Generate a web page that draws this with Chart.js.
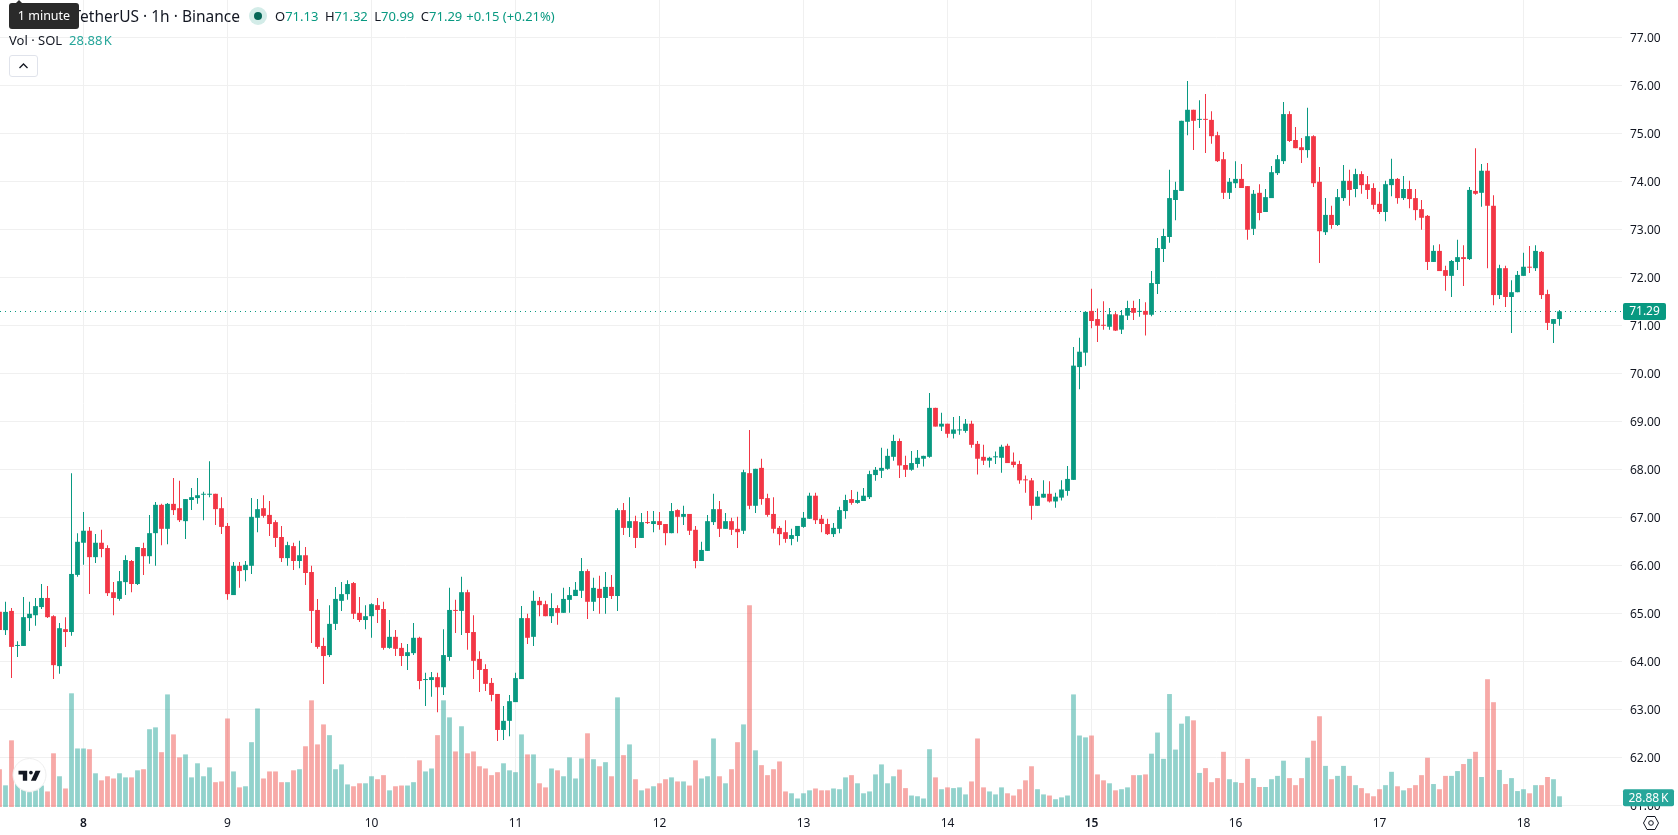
<!DOCTYPE html>
<html>
<head>
<meta charset="utf-8">
<title>SOL/USDT 1h</title>
<script src="https://cdn.jsdelivr.net/npm/chart.js@4"></script>
<style>
  html, body { margin: 0; padding: 0; background: #fff; overflow: hidden; }
  body { width: 1678px; height: 835px; position: relative; font-family: "Noto Sans", sans-serif; color: #131722; }
  canvas { position: absolute; left: 0; top: 0; }
  .abs { position: absolute; white-space: nowrap; }
  .up { color: #089981; }
  .vol { color: #26a69a; }
  #tip { left: 9px; top: 3px; width: 70px; height: 26px; line-height: 26px; background: #2a2a2a; color: #fff; border-radius: 3px; font-size: 12.5px; text-align: center; }
  #tip:before { content: ""; position: absolute; left: 6px; top: -3px; border: 4px solid transparent; border-top: 0; border-bottom: 4px solid #2a2a2a; }
  #pair { right: calc(1678px - 240px); top: 4px; font-size: 15.5px; line-height: 24px; }
  #ohlc { left: 275px; top: 6px; font-size: 13px; line-height: 20px; }
  #ohlc span { margin-right: 6.5px; }
  #ohlc span.gap { margin-right: 4px; }
  #volRow { left: 9px; top: 30px; font-size: 13px; line-height: 20px; }
  #volRow span { margin-left: 7px; word-spacing: -2px; }
  #dot { left: 249px; top: 7px; width: 18px; height: 18px; border-radius: 50%; background: #d3ece8; }
  #dot:after { content: ""; position: absolute; left: 5px; top: 5px; width: 8px; height: 8px; border-radius: 50%; background: #056656; }
  #toggle { left: 9px; top: 55px; width: 27px; height: 20px; border: 1px solid #e0e3eb; border-radius: 3px; background: #fff; }
</style>
</head>
<body>
<canvas id="chart" width="1678" height="835"></canvas>

<div class="abs" id="pair">Solana / TetherUS · 1h · Binance</div>
<div class="abs" id="tip">1 minute</div>
<div class="abs" id="dot"></div>
<div class="abs" id="ohlc">O<span class="up">71.13</span>H<span class="up">71.32</span>L<span class="up">70.99</span>C<span class="up gap">71.29</span><span class="up">+0.15 (+0.21%)</span></div>
<div class="abs" id="volRow">Vol · SOL<span class="vol">28.88 K</span></div>
<div class="abs" id="toggle">
  <svg width="27" height="20" viewBox="0 0 27 20"><path d="M9.5 12 L13.5 8 L17.5 12" fill="none" stroke="#131722" stroke-width="1.3"/></svg>
</div>

<!-- logo badge -->
<svg class="abs" style="left:10px;top:755px" width="40" height="40" viewBox="0 0 40 40">
  <circle cx="19.5" cy="20" r="16.5" fill="#fff" stroke="#eeeeee" stroke-width="1"/>
  <g transform="translate(8.5,14.5) scale(0.62)">
    <path d="M14 2H0v6h7v10h7V2z M28 18h-8l7.5-16h8L28 18z" fill="#131722"/>
    <circle cx="20" cy="5" r="3" fill="#131722"/>
  </g>
</svg>

<!-- settings icon under the price axis -->
<svg class="abs" style="left:1642px;top:815px" width="18" height="16" viewBox="0 0 18 16">
  <path d="M5 1.5 H13 L16.5 8 L13 14.5 H5 L1.5 8 Z" fill="none" stroke="#131722" stroke-width="1"/>
  <circle cx="9" cy="8" r="2.3" fill="none" stroke="#131722" stroke-width="1"/>
</svg>

<script>
// hourly candles, oldest first
const opens = [
  65.03,64.65,65.05,64.32,64.32,64.90,64.96,65.13,65.32,64.94,
  63.90,64.67,64.61,65.80,66.47,66.72,66.17,66.47,66.36,65.44,
  65.30,65.65,66.09,65.61,66.36,66.19,66.67,67.26,66.76,67.28,
  67.19,66.92,67.36,67.40,67.47,67.47,67.49,67.19,66.82,65.38,
  65.99,65.90,65.99,66.99,67.19,67.05,66.90,66.59,66.15,66.40,
  66.09,66.21,65.86,65.07,64.32,64.13,64.78,65.26,65.40,65.63,
  65.01,64.86,64.94,65.17,65.09,64.28,64.51,64.28,64.11,64.17,
  64.49,63.61,63.61,63.67,63.46,64.09,65.07,65.05,65.44,64.61,
  64.05,63.84,63.55,63.32,62.57,62.76,63.15,63.63,64.90,64.51,
  65.26,65.19,64.94,65.11,65.01,65.28,65.36,65.47,65.88,65.24,
  65.51,65.32,65.55,65.36,67.15,66.78,66.92,66.57,66.90,66.86,
  66.92,66.86,66.67,67.15,67.01,67.07,66.74,66.09,66.30,66.90,
  67.17,66.76,66.92,66.76,66.72,67.92,67.24,68.03,67.40,67.07,
  66.78,66.69,66.55,66.61,66.80,66.97,67.45,66.97,66.86,66.65,
  66.76,67.13,67.38,67.30,67.34,67.42,67.88,67.97,68.01,68.26,
  68.59,68.09,67.99,68.11,68.22,68.26,69.28,68.89,68.95,68.74,
  68.81,68.80,68.95,68.53,68.26,68.18,68.25,68.24,68.49,68.16,
  68.11,67.79,67.77,67.24,67.41,67.49,67.33,67.41,67.55,67.78,
  70.13,70.43,71.30,71.13,71.00,70.97,71.23,70.91,71.20,71.36,
  71.28,71.30,71.22,71.86,72.59,72.84,73.61,73.80,75.24,75.49,
  75.28,75.30,75.28,74.96,74.46,73.76,73.96,74.05,73.90,73.01,
  73.76,73.36,73.65,74.17,74.42,75.40,74.86,74.71,74.65,74.94,
  73.99,72.94,73.30,73.09,73.65,74.01,73.84,74.15,73.94,73.86,
  73.53,73.36,73.92,74.05,73.65,73.84,73.65,73.42,73.28,72.32,
  72.55,72.15,72.03,72.32,72.42,72.38,73.80,73.76,74.22,73.49,
  71.63,72.19,71.59,71.69,72.03,72.22,72.19,72.53,71.65,71.03,
  71.13
];
const closes = [
  64.65,65.03,64.30,64.34,64.92,64.99,65.15,65.32,64.92,63.92,
  64.69,64.61,65.82,66.49,66.72,66.17,66.47,66.34,65.42,65.32,
  65.67,66.11,65.61,66.38,66.19,66.67,67.26,66.76,67.28,67.15,
  66.94,67.38,67.42,67.46,67.49,67.49,67.17,66.80,65.40,65.99,
  65.88,66.01,67.01,67.17,67.03,66.86,66.57,66.15,66.42,66.09,
  66.21,65.84,65.05,64.30,64.11,64.78,65.30,65.40,65.61,64.99,
  64.86,64.94,65.19,65.07,64.28,64.51,64.26,64.11,64.19,64.49,
  63.59,63.63,63.67,63.46,64.13,65.07,65.05,65.44,64.59,64.01,
  63.82,63.53,63.30,62.57,62.76,63.17,63.65,64.90,64.49,65.26,
  65.17,64.94,65.11,65.01,65.30,65.38,65.49,65.88,65.24,65.53,
  65.32,65.55,65.36,67.15,66.78,66.92,66.57,66.90,66.88,66.92,
  66.84,66.67,67.13,67.01,67.07,66.72,66.09,66.32,66.92,67.17,
  66.76,66.92,66.74,66.69,67.94,67.24,68.01,67.38,67.05,66.76,
  66.65,66.55,66.63,66.82,66.99,67.45,66.94,66.86,66.65,66.78,
  67.15,67.36,67.30,67.36,67.45,67.90,67.99,68.03,68.28,68.59,
  68.08,67.99,68.13,68.24,68.28,69.28,68.89,68.95,68.74,68.83,
  68.83,68.95,68.51,68.22,68.18,68.24,68.26,68.47,68.13,68.09,
  67.77,67.77,67.24,67.43,67.49,67.33,67.43,67.58,67.80,70.16,
  70.45,71.28,71.09,70.99,70.99,71.23,70.89,71.21,71.36,71.26,
  71.29,71.22,71.88,72.61,72.86,73.65,73.82,75.26,75.49,75.26,
  75.30,75.28,74.94,74.42,73.76,73.99,74.05,73.86,72.99,73.74,
  73.34,73.67,74.19,74.46,75.40,74.84,74.69,74.65,74.94,73.96,
  72.96,73.30,73.09,73.67,74.01,73.82,74.15,73.92,73.82,73.51,
  73.36,73.94,74.05,73.65,73.84,73.63,73.40,73.24,72.32,72.55,
  72.13,72.03,72.34,72.42,72.38,73.82,73.74,74.22,73.49,71.63,
  72.19,71.59,71.69,72.05,72.22,72.20,72.55,71.63,71.05,71.13,
  71.29
];
const highs = [
  65.14,65.24,65.11,64.42,65.34,65.24,65.32,65.61,65.57,64.96,
  64.80,64.92,67.92,66.67,67.11,66.80,66.65,66.74,66.42,65.65,
  65.88,66.21,66.11,66.38,66.47,67.05,67.32,67.28,67.30,67.82,
  67.76,67.38,67.61,67.82,67.53,68.17,67.49,67.42,66.88,66.07,
  66.07,66.09,67.40,67.38,67.46,67.34,66.94,66.82,66.49,66.47,
  66.51,66.38,65.99,65.30,64.49,65.17,65.55,65.65,65.69,65.65,
  65.34,65.17,65.21,65.32,65.24,64.86,64.65,64.38,64.36,64.80,
  64.51,63.76,63.78,63.76,64.67,65.53,65.28,65.76,65.49,64.96,
  64.21,63.94,63.65,63.32,63.07,63.30,63.76,65.15,64.99,65.47,
  65.34,65.26,65.42,65.17,65.53,65.55,65.65,66.15,65.92,65.74,
  65.78,65.86,65.80,67.19,67.30,67.42,67.03,67.09,67.13,67.13,
  67.11,66.86,67.30,67.17,67.24,67.07,66.82,66.49,67.05,67.49,
  67.34,67.09,66.99,67.01,67.99,68.82,68.01,68.22,67.49,67.42,
  66.82,66.94,66.76,66.82,67.11,67.51,67.51,67.05,66.97,66.88,
  67.22,67.47,67.57,67.53,67.61,67.97,68.05,68.45,68.43,68.72,
  68.64,68.28,68.38,68.40,68.28,69.59,69.28,69.18,68.95,69.09,
  69.11,69.05,69.01,68.59,68.51,68.26,68.37,68.51,68.53,68.35,
  68.18,67.87,67.82,67.55,67.77,67.75,67.51,67.77,68.07,70.55,
  70.74,71.30,71.76,71.35,71.50,71.36,71.27,71.32,71.51,71.51,
  71.55,71.48,72.13,72.82,73.01,74.24,73.99,75.26,76.09,75.49,
  75.69,75.82,75.46,75.03,74.61,74.07,74.42,74.36,73.90,73.82,
  73.94,73.84,74.32,74.55,75.65,75.46,75.13,74.90,75.53,74.96,
  74.30,73.65,73.49,73.84,74.34,74.24,74.26,74.21,74.11,73.96,
  73.78,74.01,74.47,74.07,74.11,74.01,73.84,73.61,73.30,72.67,
  72.69,72.24,72.36,72.78,72.67,73.88,74.69,74.36,74.38,73.71,
  72.26,72.24,71.94,72.13,72.51,72.65,72.67,72.55,71.74,71.13,
  71.32
];
const lows = [
  64.62,64.55,63.65,64.09,64.32,64.63,64.74,65.09,64.90,63.63,
  63.74,64.30,64.53,65.76,66.01,65.40,66.05,66.17,65.36,64.96,
  65.26,65.38,65.44,65.59,65.80,66.03,65.99,66.42,66.44,67.05,
  66.90,66.55,67.15,67.28,66.94,67.42,66.84,66.65,65.28,65.38,
  65.53,65.67,65.82,66.69,66.99,66.61,66.38,66.07,65.99,65.90,
  65.94,65.59,64.38,64.26,63.53,64.09,64.65,65.05,65.28,64.88,
  64.82,64.67,64.49,64.80,64.24,64.26,64.11,63.90,63.82,64.13,
  63.42,63.07,63.26,62.94,63.30,64.01,64.59,64.55,64.24,63.63,
  63.36,63.38,63.17,62.34,62.36,62.44,63.15,63.63,64.36,64.32,
  64.94,64.94,64.80,64.76,65.01,65.01,65.36,65.32,64.88,65.05,
  64.99,64.99,65.30,65.05,66.63,66.59,66.36,66.57,66.86,66.69,
  66.74,66.42,66.67,66.67,66.84,66.63,65.94,66.09,66.30,66.84,
  66.59,66.76,66.63,66.36,66.65,67.17,67.09,67.26,67.01,66.67,
  66.42,66.47,66.42,66.49,66.78,66.97,66.86,66.69,66.63,66.59,
  66.67,66.97,67.26,67.28,67.34,67.38,67.76,67.82,67.99,68.18,
  67.82,67.84,67.97,68.03,68.06,68.24,68.89,68.80,68.66,68.64,
  68.72,68.76,68.45,67.89,68.09,68.04,68.11,67.93,68.13,68.04,
  67.70,67.51,66.95,67.24,67.41,67.31,67.20,67.35,67.45,67.78,
  69.67,70.16,70.94,70.65,70.91,70.91,70.88,70.82,71.11,71.11,
  71.18,70.79,71.19,71.65,72.32,72.72,73.19,73.80,74.96,74.65,
  75.11,74.59,74.78,74.40,73.63,73.63,73.86,73.86,72.78,72.88,
  73.19,73.36,73.65,74.13,74.36,74.82,74.69,74.38,74.49,73.88,
  72.30,72.88,73.01,73.07,73.59,73.49,73.67,73.74,73.63,73.42,
  73.32,73.17,73.69,73.53,73.61,73.44,73.19,72.99,72.15,72.32,
  72.13,71.72,71.59,72.15,71.82,72.36,73.72,73.47,72.19,71.42,
  71.55,71.38,70.84,71.69,72.03,72.09,72.13,71.55,70.90,70.63,
  70.99
];
// volume per candle, thousands of SOL
const volumes = [
  102,58.5,180,63,50,40,45,58,42,145,
  83,50,307,158,158,156,91,72,83,77,
  91,80,80,99,102,210,215,148,304,196,
  134,142,80,118,83,107,67,69,239,96,
  53,56,175,266,77,96,96,67,67,99,
  102,164,288,169,223,194,102,115,61,56,
  64,64,83,75,86,45,56,58,58,67,
  126,96,104,194,288,242,150,218,145,150,
  110,104,86,94,118,99,94,196,142,142,
  64,53,104,99,83,134,77,131,199,129,
  110,121,83,296,140,169,75,45,50,56,
  64,75,80,69,69,58,126,77,83,185,
  83,64,102,175,223,545,153,113,86,102,
  123,42,37,23,37,45,50,45,45,50,
  48,80,86,64,37,42,88,115,64,83,
  101,51,31,29,23,156,80,48,53,51,
  53,34,69,185,53,42,34,53,37,31,
  48,72,110,48,34,31,21,26,31,304,
  193,188,193,88,72,64,45,48,53,86,
  86,88,144,201,130,305,155,225,245,234,
  92,105,67,78,149,75,67,65,130,78,
  54,54,75,84,125,78,59,78,133,179,
  245,111,75,84,111,84,59,51,37,29,
  48,59,95,56,45,51,59,86,133,62,
  48,84,84,97,116,130,149,81,345,283,
  100,62,78,43,48,37,59,59,81,75,
  28.88
];
// midnight candles and the day numbers printed under them
const dayIndexes = [14, 38, 62, 86, 110, 134, 158, 182, 206, 230, 254];
const dayLabels = ['8', '9', '10', '11', '12', '13', '14', '15', '16', '17', '18'];
const boldDays = ['8', '15'];

const UP = '#089981', DOWN = '#f23645';
const UP_VOL = 'rgba(38,166,154,0.5)', DOWN_VOL = 'rgba(239,83,80,0.5)';
const GRID = '#f0f0f0';
const FONT = '"Noto Sans", sans-serif';

const isUp = i => closes[i] >= opens[i];
const lastIdx = closes.length - 1;

// axis sizes are fixed so the plot keeps 6px per candle
function fixY(width) {
  return s => { s.width = width; s.paddingTop = 0; s.paddingBottom = 0; };
}

// last price line and the two tags on the axis
const lastTags = {
  id: 'lastTags',
  beforeDatasetsDraw(c) {
    const y = Math.round(c.scales.y.getPixelForValue(closes[lastIdx])) + 0.5;
    const g = c.ctx;
    g.save();
    g.strokeStyle = UP;
    g.lineWidth = 1;
    g.setLineDash([1, 4]);
    g.beginPath();
    g.moveTo(c.chartArea.left, y);
    g.lineTo(c.chartArea.right, y);
    g.stroke();
    g.restore();
  },
  afterDraw(c) {
    const g = c.ctx;
    const tag = (text, color, cy, w) => {
      g.fillStyle = color;
      g.beginPath();
      g.roundRect(c.chartArea.right + 1, cy - 8.5, w, 17, 2);
      g.fill();
      g.fillStyle = '#fff';
      g.font = '12px ' + FONT;
      g.textAlign = 'center';
      g.textBaseline = 'middle';
      g.fillText(text, c.chartArea.right + 1 + w / 2, cy + 0.5);
    };
    g.save();
    tag(closes[lastIdx].toFixed(2), UP, c.scales.y.getPixelForValue(closes[lastIdx]), 43);
    tag(volumes[lastIdx].toFixed(2) + '\u2009K', '#26a69a', c.scales.volume.getPixelForValue(volumes[lastIdx]) + 1.5, 51);
    g.restore();
  }
};

new Chart(document.getElementById('chart'), {
  type: 'bar',
  data: {
    datasets: [
      {
        yAxisID: 'volume',
        order: 3,
        grouped: false,
        barPercentage: 1,
        maxBarThickness: 5,
        data: volumes.map((v, i) => ({ x: i, y: v })),
        backgroundColor: volumes.map((v, i) => isUp(i) ? UP_VOL : DOWN_VOL)
      },
      {
        yAxisID: 'y',
        order: 2,
        grouped: false,
        barPercentage: 1,
        maxBarThickness: 1,
        data: highs.map((h, i) => ({ x: i, y: [lows[i], h] })),
        backgroundColor: highs.map((h, i) => isUp(i) ? UP : DOWN)
      },
      {
        yAxisID: 'y',
        order: 1,
        grouped: false,
        barPercentage: 1,
        maxBarThickness: 5,
        minBarLength: 1,
        data: opens.map((o, i) => ({ x: i, y: [o, closes[i]] })),
        backgroundColor: opens.map((o, i) => isUp(i) ? UP : DOWN)
      }
    ]
  },
  options: {
    responsive: false,
    animation: false,
    events: [],
    layout: { padding: 0 },
    plugins: { legend: { display: false }, tooltip: { enabled: false } },
    scales: {
      x: {
        type: 'linear',
        offset: false,
        min: 0.0833,
        max: 270.4167,
        afterBuildTicks: s => { s.ticks = dayIndexes.map(v => ({ value: v })); },
        afterFit: s => { s.height = 28; s.paddingLeft = 0; s.paddingRight = 0; },
        border: { display: false },
        grid: { color: GRID, drawTicks: false, offset: false },
        ticks: {
          autoSkip: false,
          maxRotation: 0,
          padding: 9,
          color: '#131722',
          font: c => ({
            family: FONT,
            size: 12,
            weight: boldDays.includes(dayLabels[c.index]) ? '600' : '400'
          }),
          callback: v => dayLabels[dayIndexes.indexOf(v)]
        }
      },
      y: {
        position: 'right',
        min: 60.965,
        max: 77.777,
        afterFit: fixY(56),
        border: { display: false },
        grid: { color: GRID, drawTicks: false },
        ticks: {
          stepSize: 1,
          includeBounds: false,
          padding: 8,
          labelOffset: 1,
          color: '#131722',
          font: { family: FONT, size: 12 },
          callback: v => v.toFixed(2)
        }
      },
      // volume shares the pane, scaled so the tall bars stay in the lower quarter
      volume: {
        display: false,
        min: 0,
        max: 2179
      }
    }
  },
  plugins: [lastTags]
});
</script>
</body>
</html>
